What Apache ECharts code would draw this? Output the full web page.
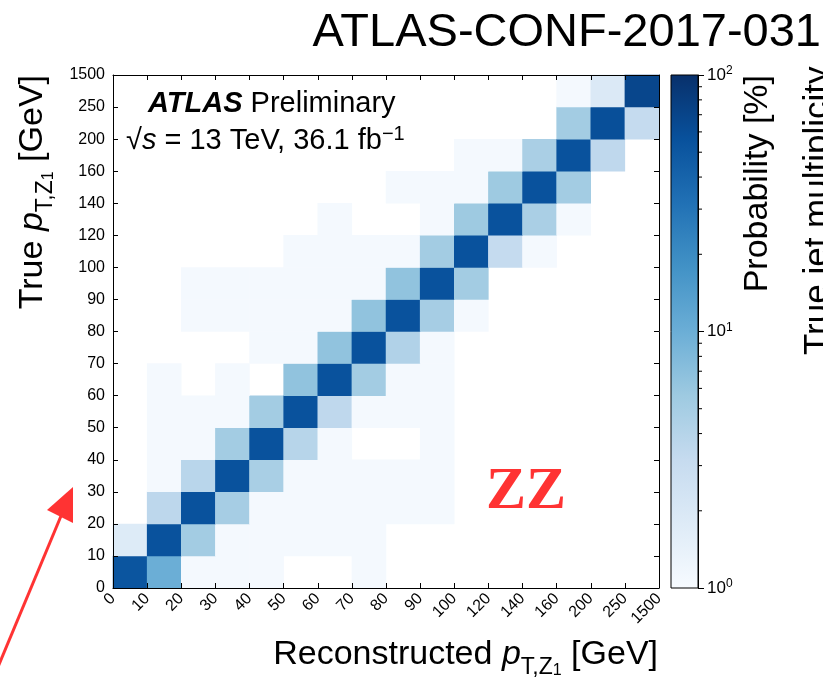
<!DOCTYPE html>
<html>
<head>
<meta charset="utf-8">
<script src="https://cdn.jsdelivr.net/npm/echarts/dist/echarts.min.js"></script>
<style>
html,body{margin:0;padding:0;background:#fff;}
#chart{width:823px;height:677px;}
</style>
</head>
<body>
<div id="chart"></div>
<script>
// ---- data ----
const recoBins = ['0-10','10-20','20-30','30-40','40-50','50-60','60-70','70-80','80-90','90-100','100-120','120-140','140-160','160-200','200-250','250-1500'];
const trueBins = ['0-10','10-20','20-30','30-40','40-50','50-60','60-70','70-80','80-90','90-100','100-120','120-140','140-160','160-200','200-250','250-1500'];
const edgeLabels = ['0','10','20','30','40','50','60','70','80','90','100','120','140','160','200','250','1500'];
// probability [%] per true bin (row), reco bins along the row; 0 = empty (below 1%)
const probTrue0  = [52, 10, 1.06, 1.06, 1.06, 0, 0, 1.06, 0, 0, 0, 0, 0, 0, 0, 0];
const probTrue1  = [1.8, 55, 5.2, 1.06, 1.06, 1.06, 1.06, 1.06, 0, 0, 0, 0, 0, 0, 0, 0];
const probTrue2  = [0, 3.6, 55, 5.0, 1.06, 1.06, 1.06, 1.06, 1.06, 1.06, 0, 0, 0, 0, 0, 0];
const probTrue3  = [0, 1.06, 3.8, 55, 4.8, 1.06, 1.06, 1.06, 1.06, 1.06, 0, 0, 0, 0, 0, 0];
const probTrue4  = [0, 1.06, 1.06, 5.2, 55, 3.9, 1.06, 0, 0, 1.06, 0, 0, 0, 0, 0, 0];
const probTrue5  = [0, 1.06, 1.06, 1.06, 5.2, 55, 3.5, 1.06, 1.06, 1.06, 0, 0, 0, 0, 0, 0];
const probTrue6  = [0, 1.06, 0, 1.06, 0, 6.5, 55, 5.2, 1.06, 1.06, 0, 0, 0, 0, 0, 0];
const probTrue7  = [0, 0, 0, 0, 1.06, 1.06, 6.5, 55, 4.3, 1.06, 0, 0, 0, 0, 0, 0];
const probTrue8  = [0, 0, 1.06, 1.06, 1.06, 1.06, 1.06, 6.5, 55, 5.0, 1.06, 0, 0, 0, 0, 0];
const probTrue9  = [0, 0, 1.06, 1.06, 1.06, 1.06, 1.06, 1.06, 6.5, 55, 5.2, 0, 0, 0, 0, 0];
const probTrue10 = [0, 0, 0, 0, 0, 1.06, 1.06, 1.06, 1.06, 5.2, 55, 3.2, 1.06, 0, 0, 0];
const probTrue11 = [0, 0, 0, 0, 0, 0, 1.06, 0, 0, 1.06, 5.6, 55, 4.7, 1.06, 0, 0];
const probTrue12 = [0, 0, 0, 0, 0, 0, 0, 0, 1.06, 1.06, 1.06, 5.6, 55, 5.2, 0, 0];
const probTrue13 = [0, 0, 0, 0, 0, 0, 0, 0, 0, 0, 1.06, 1.06, 4.7, 55, 3.5, 0];
const probTrue14 = [0, 0, 0, 0, 0, 0, 0, 0, 0, 0, 0, 0, 0, 5.2, 58, 3.2];
const probTrue15 = [0, 0, 0, 0, 0, 0, 0, 0, 0, 0, 0, 0, 0, 1.06, 1.9, 68];
const colorbarTicks = [1, 10, 100];
const colorbarMinorTicks = [2, 3, 4, 5, 6, 7, 8, 9, 20, 30, 40, 50, 60, 70, 80, 90];

const probRows = [probTrue0, probTrue1, probTrue2, probTrue3, probTrue4, probTrue5, probTrue6, probTrue7,
  probTrue8, probTrue9, probTrue10, probTrue11, probTrue12, probTrue13, probTrue14, probTrue15];

const blues = ['#f7fbff','#deebf7','#c6dbef','#9ecae1','#6baed6','#4292c6','#2171b5','#08519c','#08306b'];

const heatData = [];
probRows.forEach((row, t) => {
  row.forEach((v, c) => {
    if (v >= 1) heatData.push([c, t, Math.log10(v), v]);
  });
});

const FONT = '"Liberation Sans", Arial, Helvetica, sans-serif';
const chart = echarts.init(document.getElementById('chart'), null, {renderer: 'canvas'});

const gradStops = blues.slice().reverse().map((c, i, a) => ({offset: i / (a.length - 1), color: c}));

const tickLabelStyle = {color: '#000', fontFamily: FONT, fontSize: 16};

const option = {
  animation: false,
  backgroundColor: '#fff',
  grid: [
    {left: 113, top: 75, width: 546, height: 513, show: false},
    {left: 671, top: 75, width: 27, height: 513, show: false}
  ],
  xAxis: [
    {type: 'category', gridIndex: 0, data: recoBins, show: false},
    {type: 'value', gridIndex: 0, position: 'bottom', min: 0, max: 16, interval: 1, z: 10,
      axisLine: {show: true, onZero: false, lineStyle: {color: '#000', width: 1}},
      axisTick: {show: true, inside: true, length: 5, lineStyle: {color: '#000'}},
      splitLine: {show: false},
      axisLabel: Object.assign({rotate: 45, margin: 8, showMinLabel: true, showMaxLabel: true, hideOverlap: false,
        formatter: v => edgeLabels[v]}, tickLabelStyle)},
    {type: 'value', gridIndex: 0, position: 'top', min: 0, max: 16, interval: 1, z: 10,
      axisLine: {show: true, onZero: false, lineStyle: {color: '#000', width: 1}},
      axisTick: {show: true, inside: true, length: 5, lineStyle: {color: '#000'}},
      splitLine: {show: false}, axisLabel: {show: false}},
    {type: 'value', gridIndex: 1, min: 0, max: 1, show: false}
  ],
  yAxis: [
    {type: 'category', gridIndex: 0, data: trueBins, show: false},
    {type: 'value', gridIndex: 0, position: 'left', min: 0, max: 16, interval: 1, z: 10,
      axisLine: {show: true, onZero: false, lineStyle: {color: '#000', width: 1}},
      axisTick: {show: true, inside: true, length: 5, lineStyle: {color: '#000'}},
      splitLine: {show: false},
      axisLabel: Object.assign({margin: 8, showMinLabel: true, showMaxLabel: true, hideOverlap: false,
        formatter: v => edgeLabels[v]}, tickLabelStyle)},
    {type: 'value', gridIndex: 0, position: 'right', min: 0, max: 16, interval: 1, z: 10,
      axisLine: {show: true, onZero: false, lineStyle: {color: '#000', width: 1}},
      axisTick: {show: true, inside: true, length: 5, lineStyle: {color: '#000'}},
      splitLine: {show: false}, axisLabel: {show: false}},
    {type: 'log', gridIndex: 1, position: 'right', min: 1, max: 100, logBase: 10, z: 10,
      axisLine: {show: true, onZero: false, lineStyle: {color: '#000', width: 1}},
      axisTick: {show: true, inside: false, length: 6, lineStyle: {color: '#000'}},
      splitLine: {show: false},
      axisLabel: {margin: 9, color: '#000', fontFamily: FONT, fontSize: 17, showMinLabel: true, showMaxLabel: true,
        formatter: v => '{b|10}{sup|' + Math.round(Math.log10(v)) + '}',
        rich: {b: {fontSize: 17, fontFamily: FONT, color: '#000', lineHeight: 20},
               sup: {fontSize: 12, fontFamily: FONT, color: '#000', verticalAlign: 'top', lineHeight: 12}}}}
  ],
  visualMap: {
    show: false, type: 'continuous', min: 0, max: 2, dimension: 2, seriesIndex: 0,
    inRange: {color: blues}
  },
  series: [
    {type: 'heatmap', xAxisIndex: 0, yAxisIndex: 0, data: heatData, progressive: 0,
      itemStyle: {borderWidth: 0}, emphasis: {disabled: true}},
    {type: 'custom', xAxisIndex: 3, yAxisIndex: 3, silent: true, z: 5,
      data: [[0, 1, colorbarTicks[0], colorbarTicks[colorbarTicks.length - 1]]],
      encode: {x: 0, y: 2},
      renderItem: (params, api) => {
        const tl = api.coord([api.value(0), api.value(3)]);
        const br = api.coord([api.value(1), api.value(2)]);
        return {type: 'rect', shape: {x: tl[0], y: tl[1], width: br[0] - tl[0], height: br[1] - tl[1]},
          style: {fill: new echarts.graphic.LinearGradient(0, 0, 0, 1, gradStops), stroke: '#000', lineWidth: 1}};
      }},
    {type: 'custom', xAxisIndex: 3, yAxisIndex: 3, silent: true, z: 6,
      data: colorbarMinorTicks.map(v => [1, v]),
      renderItem: (params, api) => {
        const p = api.coord([api.value(0), api.value(1)]);
        return {type: 'line', shape: {x1: p[0], y1: p[1], x2: p[0] + 4, y2: p[1]},
          style: {stroke: '#000', lineWidth: 1}};
      }}
  ],
  graphic: [
    {type: 'text', x: 821, y: 33, z: 20,
      style: {text: 'ATLAS-CONF-2017-031', fontFamily: FONT, fontSize: 47, fill: '#000', align: 'right', verticalAlign: 'middle'}},
    {type: 'text', x: 148, y: 104, z: 20,
      style: {text: '{b|ATLAS} Preliminary', fontFamily: FONT, fontSize: 29, fill: '#000', align: 'left', verticalAlign: 'middle',
        rich: {b: {fontFamily: FONT, fontSize: 29, fontWeight: 'bold', fontStyle: 'italic', fill: '#000'}}}},
    {type: 'text', x: 126, y: 141, z: 20,
      style: {text: '√{i|s} = 13 TeV, 36.1 fb{sup|−1}', fontFamily: FONT, fontSize: 29, fill: '#000', align: 'left', verticalAlign: 'middle',
        lineHeight: 34,
        rich: {i: {fontFamily: FONT, fontSize: 29, fontStyle: 'italic', fill: '#000', lineHeight: 34},
               sup: {fontFamily: FONT, fontSize: 20, fill: '#000', verticalAlign: 'top', lineHeight: 20}}}},
    {type: 'text', x: 658, y: 655, z: 20,
      style: {text: 'Reconstructed {i|p}{s|T,Z}{ss|1} [GeV]', fontFamily: FONT, fontSize: 34, fill: '#000', align: 'right', verticalAlign: 'middle',
        lineHeight: 48,
        rich: {i: {fontFamily: FONT, fontSize: 34, fontStyle: 'italic', fill: '#000', lineHeight: 48},
               s: {fontFamily: FONT, fontSize: 23, fill: '#000', verticalAlign: 'bottom'},
               ss: {fontFamily: FONT, fontSize: 16, fill: '#000', verticalAlign: 'bottom'}}}},
    {type: 'text', x: 33, y: 75, rotation: Math.PI / 2, z: 20,
      style: {text: 'True {i|p}{s|T,Z}{ss|1} [GeV]', fontFamily: FONT, fontSize: 34, fill: '#000', align: 'right', verticalAlign: 'middle',
        lineHeight: 48,
        rich: {i: {fontFamily: FONT, fontSize: 34, fontStyle: 'italic', fill: '#000', lineHeight: 48},
               s: {fontFamily: FONT, fontSize: 23, fill: '#000', verticalAlign: 'bottom'},
               ss: {fontFamily: FONT, fontSize: 16, fill: '#000', verticalAlign: 'bottom'}}}},
    {type: 'text', x: 758, y: 75, rotation: Math.PI / 2, z: 20,
      style: {text: 'Probability [%]', fontFamily: FONT, fontSize: 34, fill: '#000', align: 'right', verticalAlign: 'middle'}},
    {type: 'text', x: 801, y: 355, rotation: Math.PI / 2, z: 20,
      style: {text: 'True jet multiplicity', fontFamily: FONT, fontSize: 35, fill: '#000', align: 'left', verticalAlign: 'top'}},
    {type: 'text', x: 526, y: 492, z: 20,
      style: {text: 'ZZ', fontFamily: '"Liberation Serif", "Times New Roman", serif', fontSize: 60, fontWeight: 'bold',
        fill: '#ff3333', align: 'center', verticalAlign: 'middle'}},
    {type: 'line', z: 20, shape: {x1: -2, y1: 667, x2: 61, y2: 516}, style: {stroke: '#ff3333', lineWidth: 3}},
    {type: 'polygon', z: 20, shape: {points: [[73, 487], [47, 510], [73, 523]]}, style: {fill: '#ff3333'}}
  ]
};
chart.setOption(option);
</script>
</body>
</html>
